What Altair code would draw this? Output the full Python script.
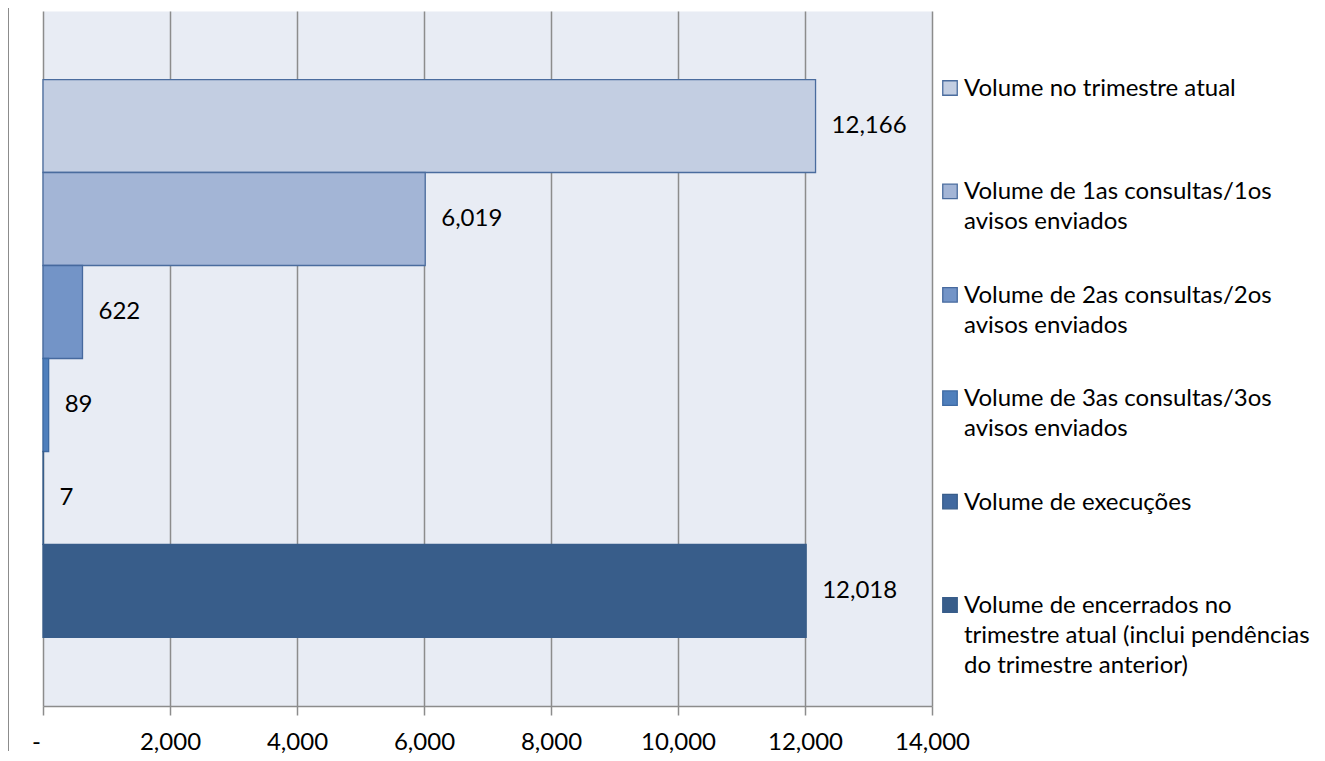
import altair as alt
import pandas as pd

series = [
    "Volume no trimestre atual",
    "Volume de 1as consultas/1os avisos enviados",
    "Volume de 2as consultas/2os avisos enviados",
    "Volume de 3as consultas/3os avisos enviados",
    "Volume de execuções",
    "Volume de encerrados no trimestre atual (inclui pendências do trimestre anterior)",
]
values = [12166, 6019, 622, 89, 7, 12018]
legend_labels = [
    "Volume no trimestre atual",
    "Volume de 1as consultas/1os\navisos enviados",
    "Volume de 2as consultas/2os\navisos enviados",
    "Volume de 3as consultas/3os\navisos enviados",
    "Volume de execuções",
    "Volume de encerrados no\ntrimestre atual (inclui pendências\ndo trimestre anterior)",
]
x_ticks = [0, 2000, 4000, 6000, 8000, 10000, 12000, 14000]

fills = ["#C3CEE2", "#A3B5D6", "#7394C7", "#4F7FBC", "#41699F", "#385D8A"]
strokes = ["#4A6C9E", "#4A6C9E", "#46699E", "#3E6AA3", "#385D8A", "#385D8A"]

FONT = "Lato"
GRID = "#8C8C8C"

df = pd.DataFrame({"series": series, "value": values, "legend": legend_labels})

fill_enc = alt.Fill("series:N", scale=alt.Scale(domain=series, range=fills), legend=None)
stroke_enc = alt.Stroke("series:N", scale=alt.Scale(domain=series, range=strokes), legend=None)

y_bar = alt.Y("series:N", sort=series, axis=None,
              scale=alt.Scale(paddingInner=0, paddingOuter=0.737))
x_enc = alt.X(
    "value:Q",
    scale=alt.Scale(domain=[0, 14000], nice=False),
    axis=alt.Axis(
        values=x_ticks,
        labelExpr="datum.value == 0 ? '-' : format(datum.value, ',')",
        labelOffset=alt.condition("datum.value == 0", alt.value(-7), alt.value(0)),
        labelFlush=False, labelOverlap=False,
        grid=True, gridColor=GRID, gridWidth=1.5,
        tickColor=GRID, tickWidth=1.5, tickSize=9,
        domainColor=GRID, domainWidth=1.5,
        labelFont=FONT, labelFontSize=24, labelColor="black",
        labelPadding=15, title=None,
    ),
)

base = alt.Chart(df)

bars = base.mark_bar(strokeWidth=1.3).encode(
    x=x_enc, y=y_bar, fill=fill_enc, stroke=stroke_enc
)
labels = base.mark_text(
    align="left", baseline="middle", dx=16, font=FONT, fontSize=24, color="black"
).encode(
    x=alt.X("value:Q"), y=y_bar, text=alt.Text("value:Q", format=",")
)

y_leg = alt.Y("series:N", sort=series, axis=None,
              scale=alt.Scale(type="point", padding=0, range=[77, 594]))

leg_sq = base.mark_square(size=210, strokeWidth=1.3, opacity=1).encode(
    x=alt.value(907), y=y_leg, fill=fill_enc, stroke=stroke_enc
)
leg_txt = base.mark_text(
    align="left", baseline="top", dy=-11, font=FONT, fontSize=24,
    color="black", lineBreak="\n", lineHeight=30,
).encode(
    x=alt.value(921), y=y_leg, text="legend:N"
)

frame = alt.Chart(pd.DataFrame({"k": [0]})).mark_rule(color=GRID, strokeWidth=2).encode(
    x=alt.value(-35), y=alt.value(-3), y2=alt.value(740)
)

chart = alt.layer(
    alt.layer(bars, labels), leg_sq, leg_txt, frame
).resolve_scale(y="independent").properties(
    width=889, height=695,
    autosize=alt.AutoSizeParams(type="none"),
    padding={"left": 35, "top": 3, "right": 385, "bottom": 47},
    background="white",
).configure_view(fill="#E8ECF4", stroke="transparent")

chart.save("out.html", embed_options={"renderer": "svg", "actions": False})
